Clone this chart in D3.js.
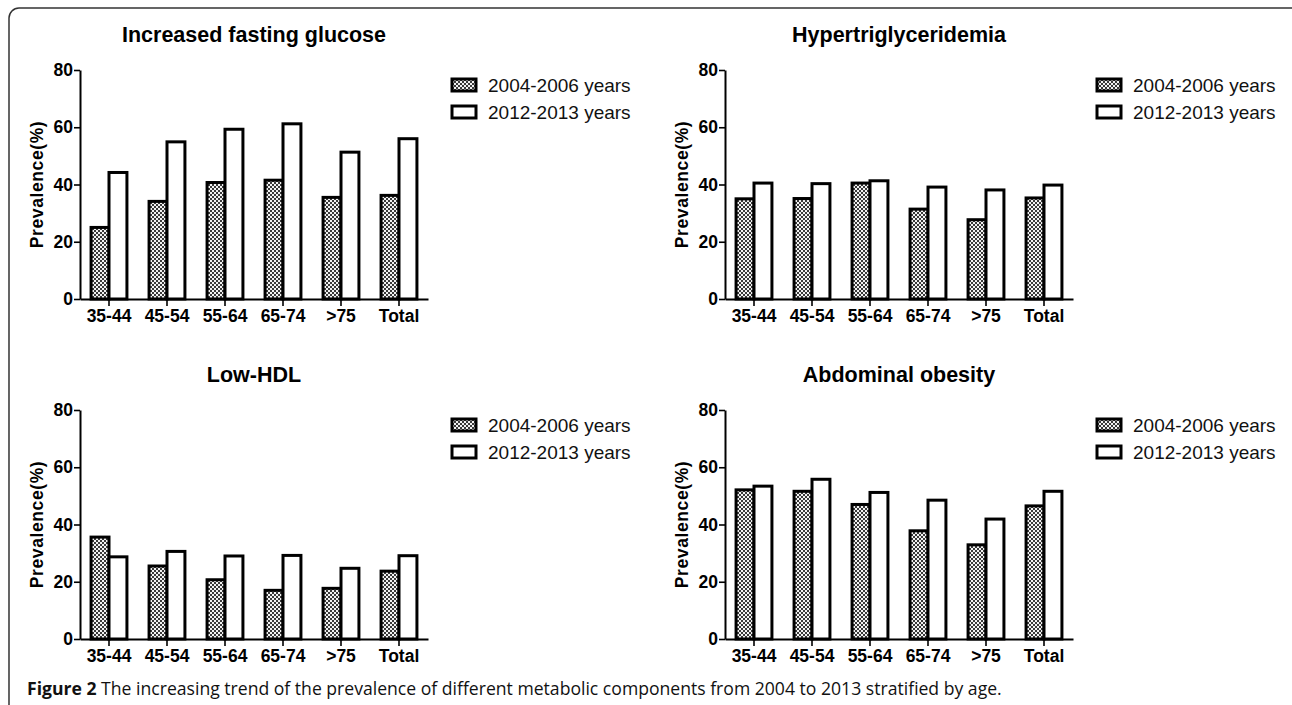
<!DOCTYPE html>
<html>
<head>
<meta charset="utf-8">
<script src="https://cdn.jsdelivr.net/npm/d3@7"></script>
<style>
  body { margin: 0; background: #fff; }
  svg { display: block; }
</style>
</head>
<body>
<svg></svg>
<script>
// data
const categories = ['35-44', '45-54', '55-64', '65-74', '>75', 'Total'];
const seriesNames = ['2004-2006 years', '2012-2013 years'];
const panelTitles = ['Increased fasting glucose', 'Hypertriglyceridemia', 'Low-HDL', 'Abdominal obesity'];
const yTicks = [0, 20, 40, 60, 80];

const glucose2004 = [25.0, 34.1, 40.7, 41.5, 35.5, 36.2];
const glucose2012 = [44.2, 54.9, 59.3, 61.2, 51.3, 56.0];
const trig2004 = [35.0, 35.1, 40.5, 31.4, 27.7, 35.3];
const trig2012 = [40.5, 40.3, 41.3, 39.1, 38.1, 39.8];
const hdl2004 = [35.6, 25.5, 20.7, 17.0, 17.7, 23.7];
const hdl2012 = [28.7, 30.6, 29.0, 29.2, 24.7, 29.1];
const obesity2004 = [52.1, 51.6, 47.0, 37.8, 32.9, 46.5];
const obesity2012 = [53.4, 55.8, 51.2, 48.5, 41.9, 51.6];

const captionBold = 'Figure 2';
const captionText = ' The increasing trend of the prevalence of different metabolic components from 2004 to 2013 stratified by age.';

const width = 1292;
const height = 705;

let svg = d3.select('svg')
    .attr('width', width)
    .attr('height', height);

// fine dotted fill like the printed figure
let defs = svg.append('defs');
let pat = defs.append('pattern')
    .attr('id', 'dots')
    .attr('patternUnits', 'userSpaceOnUse')
    .attr('width', 4)
    .attr('height', 4);
pat.append('rect').attr('width', 4).attr('height', 4).attr('fill', '#f2f2f2');
pat.append('rect').attr('width', 2).attr('height', 2).attr('fill', '#3a3a3a');
pat.append('rect').attr('x', 2).attr('y', 2).attr('width', 2).attr('height', 2).attr('fill', '#3a3a3a');

// frame
svg.append('rect')
    .attr('x', 9)
    .attr('y', 8)
    .attr('width', 1300)
    .attr('height', 800)
    .attr('rx', 10)
    .attr('fill', 'none')
    .attr('stroke', '#333')
    .attr('stroke-width', 1.5);

const panels = [
    { title: panelTitles[0], a: glucose2004, b: glucose2012, dx: 0, dy: 0 },
    { title: panelTitles[1], a: trig2004, b: trig2012, dx: 645, dy: 0 },
    { title: panelTitles[2], a: hdl2004, b: hdl2012, dx: 0, dy: 340 },
    { title: panelTitles[3], a: obesity2004, b: obesity2012, dx: 645, dy: 340 }
];

const plotLeft = 80, plotRight = 428, plotTop = 70, plotBottom = 299;

let xScale = d3.scaleBand()
    .domain(categories)
    .range([plotLeft, plotRight])
    .paddingInner(0.33)
    .paddingOuter(0.165);

let yScale = d3.scaleLinear()
    .domain([0, 80])
    .range([plotBottom, plotTop]);

function drawPanel (p) {
    let g = svg.append('g')
        .attr('transform', 'translate(' + p.dx + ',' + p.dy + ')');

    g.append('text')
        .attr('x', (plotLeft + plotRight) / 2)
        .attr('y', 42)
        .attr('text-anchor', 'middle')
        .attr('font-family', 'Liberation Sans, Arial, sans-serif')
        .attr('font-weight', 'bold')
        .attr('font-size', 21.5)
        .text(p.title);

    let rows = categories.map((c, i) => ({ cat: c, a: p.a[i], b: p.b[i] }));
    let bw = xScale.bandwidth() / 2;

    g.selectAll('rect.old')
        .data(rows)
        .enter()
        .append('rect')
        .attr('class', 'old')
        .attr('x', d => xScale(d.cat) + 1.5)
        .attr('y', d => yScale(d.a))
        .attr('width', bw - 1.5)
        .attr('height', d => plotBottom - yScale(d.a))
        .attr('fill', 'url(#dots)')
        .attr('stroke', '#000')
        .attr('stroke-width', 3);

    g.selectAll('rect.new')
        .data(rows)
        .enter()
        .append('rect')
        .attr('class', 'new')
        .attr('x', d => xScale(d.cat) + bw)
        .attr('y', d => yScale(d.b))
        .attr('width', bw - 1.5)
        .attr('height', d => plotBottom - yScale(d.b))
        .attr('fill', '#fff')
        .attr('stroke', '#000')
        .attr('stroke-width', 3);

    let yAxis = d3.axisLeft(yScale).tickValues(yTicks).tickSize(6).tickPadding(1).tickSizeOuter(0);
    let ya = g.append('g')
        .attr('transform', 'translate(' + plotLeft + ',0)')
        .call(yAxis);

    let xAxis = d3.axisBottom(xScale).tickSize(7).tickPadding(4).tickSizeOuter(0);
    let xa = g.append('g')
        .attr('transform', 'translate(0,' + plotBottom + ')')
        .call(xAxis);

    [ya, xa].forEach(a => {
        a.select('.domain').attr('stroke', '#000').attr('stroke-width', 2);
        a.selectAll('.tick line').attr('stroke', '#000').attr('stroke-width', 1.6);
        a.selectAll('.tick text')
            .attr('fill', '#000')
            .attr('font-family', 'Liberation Sans, Arial, sans-serif')
            .attr('font-weight', 'bold')
            .attr('font-size', 17.5);
    });

    g.append('text')
        .attr('transform', 'translate(43,' + ((plotTop + plotBottom) / 2) + ') rotate(-90)')
        .attr('text-anchor', 'middle')
        .attr('font-family', 'Liberation Sans, Arial, sans-serif')
        .attr('font-weight', 'bold')
        .attr('font-size', 17.5)
        .attr('letter-spacing', 0.6)
        .text('Prevalence(%)');

    // legend
    let lg = g.selectAll('g.legend')
        .data(seriesNames)
        .enter()
        .append('g')
        .attr('class', 'legend')
        .attr('transform', (d, i) => 'translate(452,' + (79 + i * 27) + ')');

    lg.append('rect')
        .attr('width', 24)
        .attr('height', 12)
        .attr('fill', (d, i) => i === 0 ? 'url(#dots)' : '#fff')
        .attr('stroke', '#000')
        .attr('stroke-width', 3);

    lg.append('text')
        .attr('x', 36)
        .attr('y', 13)
        .attr('font-family', 'Liberation Sans, Arial, sans-serif')
        .attr('font-size', 19)
        .attr('fill', '#111')
        .text(d => d);
}

panels.forEach(drawPanel);

let cap = svg.append('text')
    .attr('x', 27)
    .attr('y', 695)
    .attr('font-family', 'Open Sans, sans-serif')
    .attr('font-size', 17.6)
    .attr('fill', '#111');
cap.append('tspan').attr('font-weight', 'bold').text(captionBold);
cap.append('tspan').text(captionText);
</script>
</body>
</html>
